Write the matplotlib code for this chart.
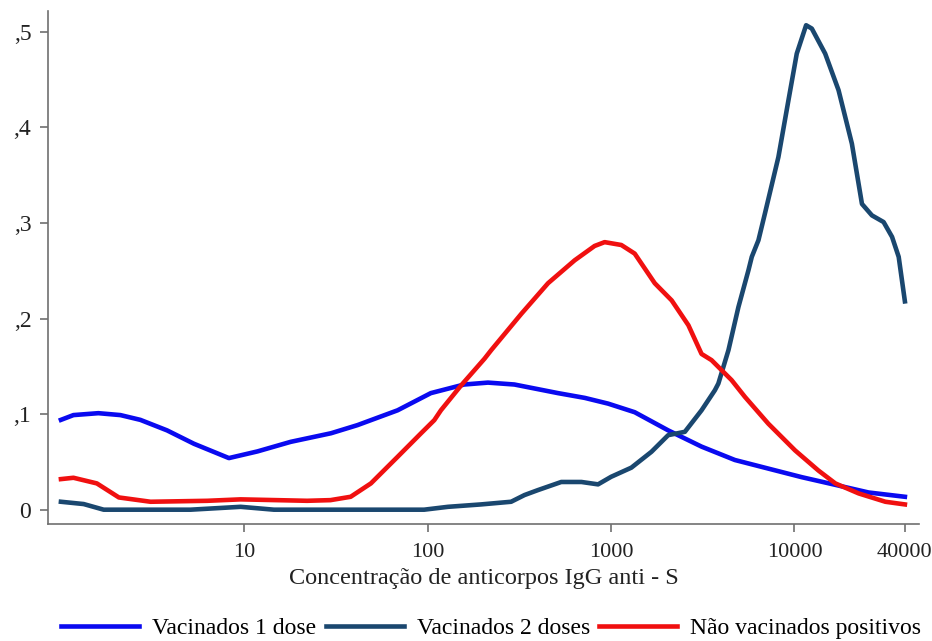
import matplotlib.pyplot as plt
from matplotlib.ticker import NullLocator

# Vacinados 1 dose
dose1_x = [1.0, 1.17, 1.6, 2.11, 2.71, 3.79, 5.31, 8.24, 11.8, 17.9, 29.7, 41.4, 68.5, 104,
           158, 213, 297, 513, 718, 963, 1345, 2048, 3113, 4730, 7200, 10970, 16700, 25350, 40000]
dose1_y = [0.094, 0.099, 0.101, 0.099, 0.094, 0.083, 0.069, 0.054, 0.061, 0.071, 0.080, 0.0885,
           0.104, 0.122, 0.131, 0.133, 0.131, 0.122, 0.117, 0.111, 0.102, 0.083, 0.066, 0.052,
           0.043, 0.034, 0.026, 0.018, 0.0135]

# Vacinados 2 doses
dose2_x = [1.0, 1.33, 1.71, 5.09, 9.55, 14.5, 95.6, 129, 195, 285, 337, 399, 535, 689, 849,
           1000, 1290, 1660, 2048, 2525, 3113, 3680, 3845, 4365, 4945, 5610, 5850, 6360, 6900,
           8170, 9270, 10290, 11570, 12430, 14700, 17390, 20560, 23330, 26440, 30620, 34040,
           37000, 40000]
dose2_y = [0.0083, 0.0059, 0.0, 0.0, 0.003, 0.0, 0.0, 0.003, 0.0055, 0.0083, 0.0153, 0.0205,
           0.029, 0.029, 0.0265, 0.0344, 0.044, 0.0606, 0.078, 0.0815, 0.104, 0.125, 0.132,
           0.167, 0.212, 0.2506, 0.2646, 0.282, 0.310, 0.369, 0.4285, 0.4773, 0.507, 0.5035,
           0.4773, 0.439, 0.383, 0.320, 0.308, 0.301, 0.2855, 0.2646, 0.218]

# Não vacinados positivos
unvac_x = [1.0, 1.17, 1.57, 2.07, 3.08, 6.28, 9.55, 22, 29.5, 38, 49, 68.5, 92, 108.6, 118,
           152, 204, 222, 324, 453, 633, 813, 922, 1137, 1345, 1730, 2140, 2640, 3113, 3530,
           4540, 5370, 7200, 10080, 13500, 16700, 22400, 31300, 40000]
unvac_y = [0.032, 0.0334, 0.0275, 0.0128, 0.0083, 0.0093, 0.0108, 0.0093, 0.010, 0.0135,
           0.0275, 0.0553, 0.080, 0.0937, 0.104, 0.130, 0.158, 0.167, 0.205, 0.237, 0.261,
           0.276, 0.280, 0.277, 0.268, 0.237, 0.219, 0.193, 0.163, 0.1565, 0.1356, 0.118,
           0.090, 0.062, 0.041, 0.0275, 0.017, 0.0083, 0.0055]

x_ticks = [10, 100, 1000, 10000, 40000]
x_tick_labels = ['10', '100', '1000', '10000', '40000']
y_ticks = [0, 0.1, 0.2, 0.3, 0.4, 0.5]
y_tick_labels = ['0', ',1', ',2', ',3', ',4', ',5']

plt.rcParams['font.family'] = ['Liberation Serif', 'DejaVu Serif']
fs = 17

fig = plt.figure(figsize=(9.32, 6.41), dpi=100)
ax = fig.add_axes([0.0515, 0.1825, 0.935, 0.8005])

ax.plot(dose1_x, dose1_y, color='#0a0af0', lw=3.3, label='Vacinados 1 dose')
ax.plot(dose2_x, dose2_y, color='#1a476f', lw=3.3, label='Vacinados 2 doses')
ax.plot(unvac_x, unvac_y, color='#f01010', lw=3.3, label='Não vacinados positivos')

ax.set_xscale('log')
ax.set_xlim(0.85, 48000)
ax.set_ylim(-0.015, 0.522)
ax.set_xticks(x_ticks)
ax.set_xticklabels(x_tick_labels)
ax.xaxis.set_minor_locator(NullLocator())
ax.set_yticks(y_ticks)
ax.set_yticklabels(y_tick_labels)

for side in ['top', 'right']:
    ax.spines[side].set_visible(False)
for side in ['left', 'bottom']:
    ax.spines[side].set_color('#707070')
    ax.spines[side].set_linewidth(1.2)
ax.tick_params(axis='both', colors='#707070', labelcolor='#222222', length=6, width=1.2)
ax.tick_params(axis='x', pad=8, labelsize=16)
ax.tick_params(axis='y', pad=6, labelsize=fs)

ax.set_xlabel('Concentração de anticorpos IgG anti - S', fontsize=17.5, color='#222222',
              labelpad=4)

fig.legend(loc='center', bbox_to_anchor=(0.527, 0.02), ncol=3, frameon=False,
           handlelength=3.3, handletextpad=0.55, columnspacing=0.4, fontsize=fs)

fig.savefig('out.png', dpi=100)
